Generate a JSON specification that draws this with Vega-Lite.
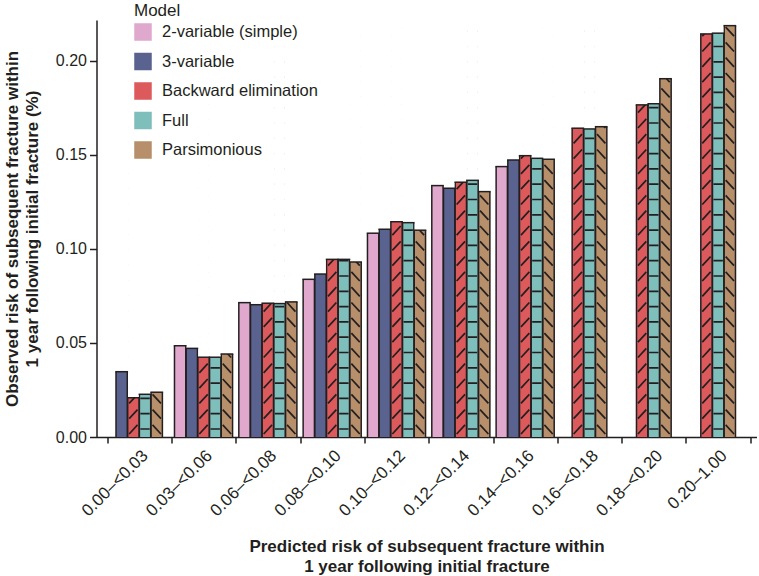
{
  "$schema": "https://vega.github.io/schema/vega-lite/v6.json",
  "width": 660,
  "height": 417,
  "autosize": {"type": "none"},
  "padding": {"left": 96.5, "top": 20, "right": 2.5, "bottom": 139},
  "background": "white",
  "config": {
    "view": {"stroke": null},
    "font": "Liberation Sans",
    "axis": {"labelColor": "#231f20", "titleColor": "#231f20", "domainColor": "#231f20", "tickColor": "#231f20", "domainWidth": 1.5, "tickWidth": 1.5, "grid": false, "labelFont": "Liberation Sans", "titleFont": "Liberation Sans", "zindex": 1},
    "legend": {"labelFont": "Liberation Sans", "titleFont": "Liberation Sans"}
  },
  "data": {
    "values": [
      {"range": "0.00–<0.03", "model": "3-variable", "value": 0.0347},
      {"range": "0.00–<0.03", "model": "Backward elimination", "value": 0.0209},
      {"range": "0.00–<0.03", "model": "Full", "value": 0.0227},
      {"range": "0.00–<0.03", "model": "Parsimonious", "value": 0.0238},
      {"range": "0.03–<0.06", "model": "2-variable (simple)", "value": 0.0485},
      {"range": "0.03–<0.06", "model": "3-variable", "value": 0.0471},
      {"range": "0.03–<0.06", "model": "Backward elimination", "value": 0.0424},
      {"range": "0.03–<0.06", "model": "Full", "value": 0.0424},
      {"range": "0.03–<0.06", "model": "Parsimonious", "value": 0.0441},
      {"range": "0.06–<0.08", "model": "2-variable (simple)", "value": 0.0714},
      {"range": "0.06–<0.08", "model": "3-variable", "value": 0.0703},
      {"range": "0.06–<0.08", "model": "Backward elimination", "value": 0.0711},
      {"range": "0.06–<0.08", "model": "Full", "value": 0.0709},
      {"range": "0.06–<0.08", "model": "Parsimonious", "value": 0.0718},
      {"range": "0.08–<0.10", "model": "2-variable (simple)", "value": 0.0838},
      {"range": "0.08–<0.10", "model": "3-variable", "value": 0.0866},
      {"range": "0.08–<0.10", "model": "Backward elimination", "value": 0.0944},
      {"range": "0.08–<0.10", "model": "Full", "value": 0.0944},
      {"range": "0.08–<0.10", "model": "Parsimonious", "value": 0.093},
      {"range": "0.10–<0.12", "model": "2-variable (simple)", "value": 0.1083},
      {"range": "0.10–<0.12", "model": "3-variable", "value": 0.1104},
      {"range": "0.10–<0.12", "model": "Backward elimination", "value": 0.1144},
      {"range": "0.10–<0.12", "model": "Full", "value": 0.1139},
      {"range": "0.10–<0.12", "model": "Parsimonious", "value": 0.1099},
      {"range": "0.12–<0.14", "model": "2-variable (simple)", "value": 0.1336},
      {"range": "0.12–<0.14", "model": "3-variable", "value": 0.1322},
      {"range": "0.12–<0.14", "model": "Backward elimination", "value": 0.1354},
      {"range": "0.12–<0.14", "model": "Full", "value": 0.1364},
      {"range": "0.12–<0.14", "model": "Parsimonious", "value": 0.1304},
      {"range": "0.14–<0.16", "model": "2-variable (simple)", "value": 0.1437},
      {"range": "0.14–<0.16", "model": "3-variable", "value": 0.1472},
      {"range": "0.14–<0.16", "model": "Backward elimination", "value": 0.1495},
      {"range": "0.14–<0.16", "model": "Full", "value": 0.1481},
      {"range": "0.14–<0.16", "model": "Parsimonious", "value": 0.1476},
      {"range": "0.16–<0.18", "model": "Backward elimination", "value": 0.1641},
      {"range": "0.16–<0.18", "model": "Full", "value": 0.1637},
      {"range": "0.16–<0.18", "model": "Parsimonious", "value": 0.1649},
      {"range": "0.18–<0.20", "model": "Backward elimination", "value": 0.1765},
      {"range": "0.18–<0.20", "model": "Full", "value": 0.1771},
      {"range": "0.18–<0.20", "model": "Parsimonious", "value": 0.1904},
      {"range": "0.20–1.00", "model": "Backward elimination", "value": 0.2142},
      {"range": "0.20–1.00", "model": "Full", "value": 0.2146},
      {"range": "0.20–1.00", "model": "Parsimonious", "value": 0.2186}
    ]
  },
  "transform": [
    {"window": [{"op": "row_number", "as": "idx"}, {"op": "count", "as": "n"}], "groupby": ["range"], "sort": [{"field": "model", "order": "ascending"}], "frame": [null, null]},
    {"calculate": "2 * (datum.idx - 1) + 5 - datum.n", "as": "slot"}
  ],
  "encoding": {
    "x": {
      "field": "range", "type": "nominal", "sort": null,
      "scale": {"paddingInner": 0, "paddingOuter": 0.13, "align": 0.63},
      "axis": {
        "labelAngle": -45, "labelFontSize": 17, "tickSize": 6, "labelPadding": 4, "tickBand": "extent",
        "title": ["Predicted risk of subsequent fracture within", "1 year following initial fracture"],
        "titleFontSize": 17, "titleFontWeight": "bold", "titleLineHeight": 20, "titlePadding": 20
      }
    },
    "xOffset": {"field": "slot", "type": "ordinal", "scale": {"domain": [0, 1, 2, 3, 4, 5, 6, 7, 8], "paddingInner": 0, "paddingOuter": 1.19}}
  },
  "layer": [
    {
      "mark": {"type": "bar", "stroke": "#231f20", "strokeWidth": 1.5},
      "encoding": {
        "y": {
          "field": "value", "type": "quantitative",
          "scale": {"domain": [0, 0.2216], "nice": false},
          "axis": {
            "values": [0, 0.05, 0.1, 0.15, 0.2], "format": ".2f", "labelFontSize": 16, "tickSize": 7, "labelPadding": 3,
            "title": ["Observed risk of subsequent fracture within", "1 year following initial fracture (%)"],
            "titleFontSize": 17, "titleFontWeight": "bold", "titleLineHeight": 20, "titlePadding": 14
          }
        },
        "color": {
          "field": "model", "type": "nominal",
          "scale": {"domain": ["2-variable (simple)", "3-variable", "Backward elimination", "Full", "Parsimonious"], "range": ["#dfa8cc", "#5a628f", "#dc5a5c", "#7fbfbb", "#b78f6a"]},
          "legend": {
            "title": "Model", "orient": "none", "legendX": 37.5, "legendY": -17,
            "titleFontSize": 17, "titleFontWeight": "normal", "titleColor": "#231f20", "titlePadding": 3,
            "labelFontSize": 16.5, "labelColor": "#231f20", "labelOffset": 10,
            "symbolType": "square", "symbolSize": 256, "rowPadding": 7.5,
            "symbolStrokeColor": "#231f20", "symbolStrokeWidth": 1.5, "symbolOpacity": 1,
            "encode": {"symbols": {"update": {"stroke": {"value": "#231f20"}, "strokeWidth": {"value": 1.5}, "strokeOpacity": {"value": 1}}}}
          }
        }
      }
    },
    {
      "mark": {"type": "rule", "strokeWidth": 12.8, "color": "#231f20", "strokeCap": "butt"},
      "encoding": {
        "y": {"field": "value", "type": "quantitative"},
        "y2": {"datum": 0}
      }
    },
    {
      "mark": {"type": "rule", "strokeWidth": 9.8, "strokeCap": "butt", "opacity": 1},
      "encoding": {
        "y": {"field": "value", "type": "quantitative"},
        "y2": {"datum": 0},
        "color": {"field": "model", "type": "nominal", "legend": null}
      }
    },
    {
      "transform": [{"filter": "datum.model === 'Backward elimination'"}],
      "mark": {"type": "point", "filled": false, "size": 4, "stroke": "#231f20", "strokeWidth": 1.7, "opacity": 1,
        "shape": "M-4.2,-3L4.2,-12.1M-4.2,-18.3L4.2,-27.4M-4.2,-33.6L4.2,-42.7M-4.2,-48.9L4.2,-58M-4.2,-64.2L4.2,-73.3M-4.2,-79.5L4.2,-88.6M-4.2,-94.8L4.2,-103.9M-4.2,-110.1L4.2,-119.2M-4.2,-125.4L4.2,-134.5M-4.2,-140.7L4.2,-149.8M-4.2,-156L4.2,-165.1M-4.2,-171.3L4.2,-180.4M-4.2,-186.6L4.2,-195.7M-4.2,-201.9L4.2,-211M-4.2,-217.2L4.2,-226.3M-4.2,-232.5L4.2,-241.6M-4.2,-247.8L4.2,-256.9M-4.2,-263.1L4.2,-272.2M-4.2,-278.4L4.2,-287.5M-4.2,-293.7L4.2,-302.8M-4.2,-309L4.2,-318.1M-4.2,-324.3L4.2,-333.4M-4.2,-339.6L4.2,-348.7M-4.2,-354.9L4.2,-364M-4.2,-370.2L4.2,-379.3M-4.2,-385.5L4.2,-394.6M-4.2,-400.8L4.2,-409.9"},
      "encoding": {"y": {"datum": 0, "type": "quantitative"}}
    },
    {
      "transform": [{"filter": "datum.model === 'Full'"}],
      "mark": {"type": "point", "filled": false, "size": 4, "stroke": "#231f20", "strokeWidth": 1.7, "opacity": 1,
        "shape": "M-4.7,-8L4.7,-8M-4.7,-23.3L4.7,-23.3M-4.7,-38.6L4.7,-38.6M-4.7,-53.9L4.7,-53.9M-4.7,-69.2L4.7,-69.2M-4.7,-84.5L4.7,-84.5M-4.7,-99.8L4.7,-99.8M-4.7,-115.1L4.7,-115.1M-4.7,-130.4L4.7,-130.4M-4.7,-145.7L4.7,-145.7M-4.7,-161L4.7,-161M-4.7,-176.3L4.7,-176.3M-4.7,-191.6L4.7,-191.6M-4.7,-206.9L4.7,-206.9M-4.7,-222.2L4.7,-222.2M-4.7,-237.5L4.7,-237.5M-4.7,-252.8L4.7,-252.8M-4.7,-268.1L4.7,-268.1M-4.7,-283.4L4.7,-283.4M-4.7,-298.7L4.7,-298.7M-4.7,-314L4.7,-314M-4.7,-329.3L4.7,-329.3M-4.7,-344.6L4.7,-344.6M-4.7,-359.9L4.7,-359.9M-4.7,-375.2L4.7,-375.2M-4.7,-390.5L4.7,-390.5M-4.7,-405.8L4.7,-405.8"},
      "encoding": {"y": {"datum": 0, "type": "quantitative"}}
    },
    {
      "transform": [{"filter": "datum.model === 'Parsimonious'"}],
      "mark": {"type": "point", "filled": false, "size": 4, "stroke": "#231f20", "strokeWidth": 1.7, "opacity": 1,
        "shape": "M-4.2,-12.1L4.2,-3M-4.2,-27.4L4.2,-18.3M-4.2,-42.7L4.2,-33.6M-4.2,-58L4.2,-48.9M-4.2,-73.3L4.2,-64.2M-4.2,-88.6L4.2,-79.5M-4.2,-103.9L4.2,-94.8M-4.2,-119.2L4.2,-110.1M-4.2,-134.5L4.2,-125.4M-4.2,-149.8L4.2,-140.7M-4.2,-165.1L4.2,-156M-4.2,-180.4L4.2,-171.3M-4.2,-195.7L4.2,-186.6M-4.2,-211L4.2,-201.9M-4.2,-226.3L4.2,-217.2M-4.2,-241.6L4.2,-232.5M-4.2,-256.9L4.2,-247.8M-4.2,-272.2L4.2,-263.1M-4.2,-287.5L4.2,-278.4M-4.2,-302.8L4.2,-293.7M-4.2,-318.1L4.2,-309M-4.2,-333.4L4.2,-324.3M-4.2,-348.7L4.2,-339.6M-4.2,-364L4.2,-354.9M-4.2,-379.3L4.2,-370.2M-4.2,-394.6L4.2,-385.5M-4.2,-409.9L4.2,-400.8"},
      "encoding": {"y": {"datum": 0, "type": "quantitative"}}
    },
    {
      "mark": {"type": "rule", "strokeWidth": 10.4, "color": "white", "strokeCap": "butt"},
      "encoding": {
        "y": {"field": "value", "type": "quantitative"},
        "y2": {"datum": 0.2216}
      }
    },
    {
      "mark": {"type": "tick", "orient": "horizontal", "size": 12.8, "thickness": 1.5, "color": "#231f20", "opacity": 1},
      "encoding": {
        "y": {"field": "value", "type": "quantitative"}
      }
    }
  ]
}
